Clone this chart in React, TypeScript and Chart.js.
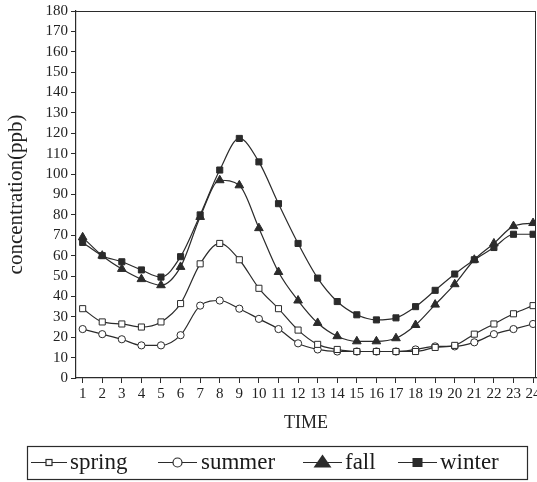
import React, { useEffect, useRef } from "react";
import { Chart, registerables } from "chart.js";

Chart.register(...registerables);

const hours = [1, 2, 3, 4, 5, 6, 7, 8, 9, 10, 11, 12, 13, 14, 15, 16, 17, 18, 19, 20, 21, 22, 23, 24];
const spring = [34, 27.5, 26.5, 25, 27.5, 36.5, 56, 66, 58, 44, 34, 23.5, 16.5, 14, 13, 13, 13, 13, 15, 16, 21.5, 26.5, 31.5, 35.5];
const summer = [24, 21.5, 19, 16, 16, 21, 35.5, 38, 34, 29, 24, 17, 14, 13, 13, 13, 13, 14, 15.5, 15.5, 17.5, 21.5, 24, 26.5];
const fall = [69, 60, 53.5, 48.5, 45.5, 54.5, 79, 97, 94.5, 73.5, 52, 38, 27, 20.5, 18, 18, 19.5, 26, 36, 46, 58, 66, 74.5, 76];
const winter = [66.5, 60, 57, 53, 49.5, 59.5, 80, 102, 117.5, 106, 85.5, 66, 49, 37.5, 31, 28.5, 29.5, 35, 43, 51, 58, 64, 70.5, 70.5];
const seriesNames = ["spring", "summer", "fall", "winter"];
const yTicks = [0, 10, 20, 30, 40, 50, 60, 70, 80, 90, 100, 110, 120, 130, 140, 150, 160, 170, 180];

const INK = "#2b2b2b";
const FONT = "'Liberation Serif', 'Times New Roman', serif";

const framePlugin = {
  id: "frame",
  afterDatasetsDraw(chart: any) {
    const { ctx, chartArea } = chart;
    ctx.save();
    ctx.strokeStyle = INK;
    ctx.lineWidth = 1;
    ctx.beginPath();
    ctx.moveTo(chartArea.left, chartArea.top + 0.5);
    ctx.lineTo(chartArea.right, chartArea.top + 0.5);
    ctx.moveTo(chartArea.right - 0.5, chartArea.top);
    ctx.lineTo(chartArea.right - 0.5, chartArea.bottom);
    ctx.stroke();
    ctx.restore();
  },
};

const legendPlugin = {
  id: "boxLegend",
  afterDraw(chart: any) {
    const ctx = chart.ctx;
    ctx.save();
    ctx.strokeStyle = INK;
    ctx.lineWidth = 1.2;
    ctx.strokeRect(27.5, 446.5, 500, 33);
    const ly = 462.5;
    const items = [
      { x1: 31, x2: 67, tx: 70, mark: "square" },
      { x1: 158, x2: 197, tx: 201, mark: "circle" },
      { x1: 303, x2: 342, tx: 345, mark: "triangle" },
      { x1: 398, x2: 437, tx: 440, mark: "fsquare" },
    ];
    ctx.font = `23px ${FONT}`;
    ctx.textBaseline = "alphabetic";
    items.forEach((it, i) => {
      ctx.strokeStyle = INK;
      ctx.lineWidth = 1.2;
      ctx.beginPath();
      ctx.moveTo(it.x1, ly);
      ctx.lineTo(it.x2, ly);
      ctx.stroke();
      const cx = (it.x1 + it.x2) / 2;
      ctx.fillStyle = "#fff";
      if (it.mark === "square") {
        ctx.fillRect(cx - 3, ly - 3, 6, 6);
        ctx.strokeRect(cx - 3, ly - 3, 6, 6);
      } else if (it.mark === "circle") {
        ctx.beginPath();
        ctx.arc(cx, ly, 4.5, 0, Math.PI * 2);
        ctx.fill();
        ctx.stroke();
      } else if (it.mark === "triangle") {
        ctx.fillStyle = INK;
        ctx.beginPath();
        ctx.moveTo(cx, ly - 8);
        ctx.lineTo(cx + 9, ly + 5);
        ctx.lineTo(cx - 9, ly + 5);
        ctx.closePath();
        ctx.fill();
      } else {
        ctx.fillStyle = INK;
        ctx.fillRect(cx - 5, ly - 4.5, 10, 9);
      }
      ctx.fillStyle = "#1a1a1a";
      ctx.textAlign = "left";
      ctx.fillText(seriesNames[i], it.tx, 469);
    });
    ctx.restore();
  },
};

export default function App() {
  const ref = useRef<HTMLCanvasElement | null>(null);

  useEffect(() => {
    if (!ref.current) return;
    const toPts = (arr: number[]) => hours.map((h, i) => ({ x: h, y: arr[i] }));
    const base = {
      borderColor: INK,
      borderWidth: 1.2,
      cubicInterpolationMode: "monotone",
      pointBorderColor: INK,
      pointBorderWidth: 1,
    };
    const chart = new Chart(ref.current, {
      type: "line",
      data: {
        datasets: [
          { ...base, label: seriesNames[0], data: toPts(spring), pointStyle: "rect", pointRadius: 4.3, pointBackgroundColor: "#fff" },
          { ...base, label: seriesNames[1], data: toPts(summer), pointStyle: "circle", pointRadius: 3.6, pointBackgroundColor: "#fff" },
          { ...base, label: seriesNames[2], data: toPts(fall), pointStyle: "triangle", pointRadius: 5, pointBackgroundColor: INK },
          { ...base, label: seriesNames[3], data: toPts(winter), pointStyle: "rect", pointRadius: 4.3, pointBackgroundColor: INK },
        ] as any,
      },
      options: {
        responsive: false,
        animation: false,
        layout: { padding: { top: 11, right: 1, left: 0, bottom: 44 }, autoPadding: false },
        plugins: { legend: { display: false }, tooltip: { enabled: false } },
        scales: {
          x: {
            type: "linear",
            min: 0.66,
            max: 24.15,
            afterBuildTicks: (scale: any) => {
              scale.ticks = hours.map((v) => ({ value: v }));
            },
            afterFit: (scale: any) => {
              scale.height = 60;
              scale.paddingLeft = 0;
              scale.paddingRight = 0;
            },
            grid: { drawOnChartArea: false, drawTicks: true, tickLength: 5, color: INK, tickColor: INK },
            border: { display: true, color: INK, width: 1.2 },
            ticks: {
              autoSkip: false,
              maxRotation: 0,
              padding: 2,
              color: "#222",
              font: { family: FONT, size: 15 },
              callback: (v: any) => String(v),
            },
            title: { display: true, text: "TIME", color: "#222", font: { family: FONT, size: 18 }, padding: 4 },
          },
          y: {
            min: 0,
            max: 180,
            afterBuildTicks: (scale: any) => {
              scale.ticks = yTicks.map((v) => ({ value: v }));
            },
            afterFit: (scale: any) => {
              scale.width = 76;
              scale.paddingTop = 0;
              scale.paddingBottom = 0;
            },
            grid: { drawOnChartArea: false, drawTicks: true, tickLength: 5, color: INK, tickColor: INK },
            border: { display: true, color: INK, width: 1.2 },
            ticks: {
              autoSkip: false,
              padding: 3,
              color: "#222",
              font: { family: FONT, size: 15 },
            },
            title: { display: true, text: "concentration(ppb)", color: "#222", font: { family: FONT, size: 21 }, padding: 4 },
          },
        },
      } as any,
      plugins: [framePlugin, legendPlugin],
    });
    return () => chart.destroy();
  }, []);

  return (
    <div style={{ position: "absolute", left: 0, top: 0, width: 537, height: 482, background: "#fff" }}>
      <canvas ref={ref} width={537} height={482} style={{ display: "block" }} />
    </div>
  );
}
